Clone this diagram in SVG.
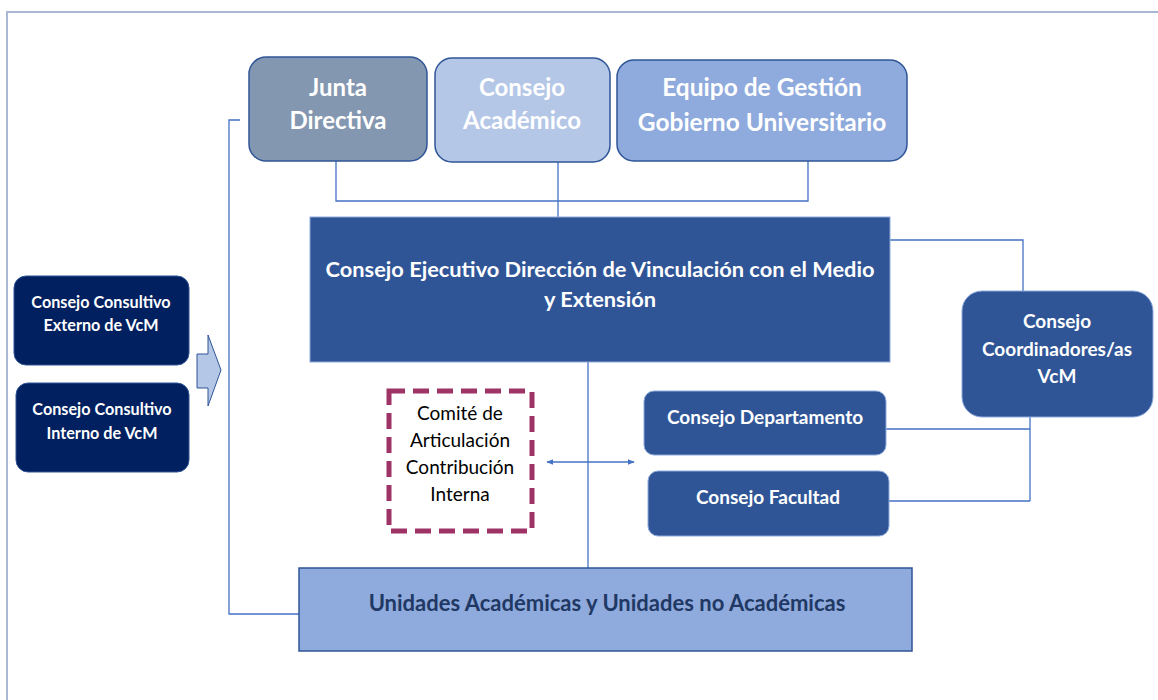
<svg xmlns="http://www.w3.org/2000/svg" width="1158" height="700" viewBox="0 0 1158 700">
<defs>
<style>
.t{font-family:Lato,"Open Sans","Liberation Sans",sans-serif;font-weight:bold;text-anchor:middle;fill:#fff}
.c{fill:none;stroke:#4472C4;stroke-width:1.3}
.nb{stroke:#2F5597;stroke-width:1.5}
</style>
<marker id="ah" viewBox="0 0 10 10" refX="9" refY="5" markerWidth="7" markerHeight="7" orient="auto-start-reverse" markerUnits="userSpaceOnUse">
<path d="M0,1 L10,5 L0,9 Z" fill="#4472C4"/>
</marker>
</defs>
<rect width="1158" height="700" fill="#fff"/>
<path d="M7,700 V12 H1158" fill="none" stroke="#A9B8D3" stroke-width="2"/>

<g id="connectors">
<path class="c" d="M336,161 V201 H808 V161"/>
<path class="c" d="M558,162 V217"/>
<path class="c" d="M890,240 H1023 V291"/>
<path class="c" d="M886,429 H1030 M889,501 H1030 M1030,417 V501"/>
<path class="c" d="M588,362 V568"/>
<path class="c" d="M240,120 H229 V614 H299"/>
<path class="c" d="M547,462 H634" marker-start="url(#ah)" marker-end="url(#ah)"/>
</g>

<g id="junta">
<rect class="nb" x="249" y="57" width="178" height="104" rx="17" fill="#8497B0"/>
<text class="t" x="338" y="96" font-size="24">Junta</text>
<text class="t" x="338" y="129" font-size="24">Directiva</text>
</g>
<g id="academico">
<rect class="nb" x="435" y="58" width="175" height="104" rx="17" fill="#B4C7E7"/>
<text class="t" x="522" y="96" font-size="24">Consejo</text>
<text class="t" x="522" y="129" font-size="24">Académico</text>
</g>
<g id="equipo">
<rect class="nb" x="617" y="60" width="290" height="101" rx="17" fill="#8FAADC"/>
<text class="t" x="762" y="96" font-size="24.5">Equipo de Gestión</text>
<text class="t" x="762" y="131" font-size="24.5">Gobierno Universitario</text>
</g>

<g id="ejecutivo">
<rect x="310" y="217" width="580" height="145" fill="#2F5597" stroke="#8FAADC" stroke-width="1"/>
<text class="t" x="600" y="277" font-size="21.8">Consejo Ejecutivo Dirección de Vinculación con el Medio</text>
<text class="t" x="600" y="307" font-size="21.8">y Extensión</text>
</g>

<g id="coordinadores">
<rect x="962" y="291" width="191" height="126" rx="20" fill="#2F5597" stroke="#8FAADC" stroke-width="1"/>
<text class="t" x="1057" y="328" font-size="19">Consejo</text>
<text class="t" x="1057" y="356" font-size="19">Coordinadores/as</text>
<text class="t" x="1057" y="383" font-size="19">VcM</text>
</g>

<g id="departamento">
<rect x="644" y="391" width="242" height="64" rx="10" fill="#2F5597" stroke="#8FAADC" stroke-width="1"/>
<text class="t" x="765" y="424" font-size="19">Consejo Departamento</text>
</g>
<g id="facultad">
<rect x="648" y="471" width="241" height="65" rx="10" fill="#2F5597" stroke="#8FAADC" stroke-width="1"/>
<text class="t" x="768" y="504" font-size="19">Consejo Facultad</text>
</g>

<g id="comite">
<rect x="389" y="391" width="143" height="140" fill="#fff" stroke="#9E3366" stroke-width="5" stroke-dasharray="16 8"/>
<g font-family="Lato,'Open Sans','Liberation Sans',sans-serif" font-size="19" text-anchor="middle" fill="#000">
<text x="460" y="420">Comité de</text>
<text x="460" y="447">Articulación</text>
<text x="460" y="474">Contribución</text>
<text x="460" y="501">Interna</text>
</g>
</g>

<g id="unidades">
<rect x="299" y="568" width="613" height="83" fill="#8FAADC" stroke="#2F5597" stroke-width="1.5"/>
<text class="t" x="607" y="611" font-size="22" style="fill:#1F3864">Unidades Académicas y Unidades no Académicas</text>
</g>

<g id="externo">
<rect x="14" y="276" width="175" height="89" rx="12" fill="#002060" stroke="#2F5597" stroke-width="1"/>
<text class="t" x="101" y="308" font-size="16.2">Consejo Consultivo</text>
<text class="t" x="101" y="331" font-size="16.2">Externo de VcM</text>
</g>
<g id="interno">
<rect x="16" y="383" width="173" height="89" rx="12" fill="#002060" stroke="#2F5597" stroke-width="1"/>
<text class="t" x="102" y="415" font-size="16.2">Consejo Consultivo</text>
<text class="t" x="102" y="439" font-size="16.2">Interno de VcM</text>
</g>

<g id="flecha">
<path d="M197,354 H208 V335 L221,370 L208,406 V388 H197 Z" fill="#B4C7E7" stroke="#2F5597" stroke-width="1"/>
</g>
</svg>
